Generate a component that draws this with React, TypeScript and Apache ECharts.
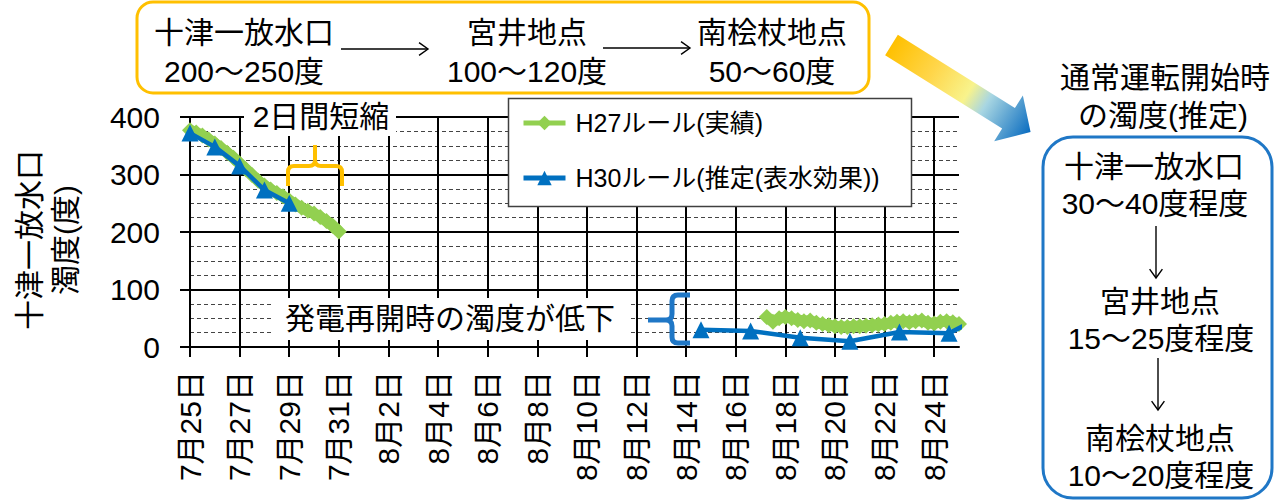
import React, { useEffect, useRef } from "react";
import * as echarts from "echarts";

// Category ticks: one per day, 7/25 .. 8/25
const dayLabels = [
  "7月25日", "7月26日", "7月27日", "7月28日", "7月29日", "7月30日", "7月31日",
  "8月1日", "8月2日", "8月3日", "8月4日", "8月5日", "8月6日", "8月7日", "8月8日",
  "8月9日", "8月10日", "8月11日", "8月12日", "8月13日", "8月14日", "8月15日",
  "8月16日", "8月17日", "8月18日", "8月19日", "8月20日", "8月21日", "8月22日",
  "8月23日", "8月24日", "8月25日",
];

// [day offset from 7/25, turbidity]
const h27Early: [number, number][] = [
  [0, 377], [0.25, 373], [0.5, 368], [0.75, 361], [1, 354], [1.25, 346], [1.5, 338],
  [1.75, 329], [2, 319], [2.25, 309], [2.5, 299], [2.75, 289], [3, 281], [3.25, 274],
  [3.5, 268], [3.75, 262], [4, 255], [4.25, 248], [4.5, 242], [4.75, 237], [5, 232],
  [5.25, 226], [5.5, 219], [5.75, 211], [6, 201],
];
const h27Late: [number, number][] = [
  [23.25, 52], [23.5, 44], [23.75, 50], [24, 52], [24.25, 50], [24.5, 47], [24.75, 45],
  [25, 46], [25.25, 42], [25.5, 40], [25.75, 38], [26, 36], [26.25, 35], [26.5, 35],
  [26.75, 36], [27, 36], [27.25, 37], [27.5, 38], [27.75, 39], [28, 40], [28.25, 42],
  [28.5, 44], [28.75, 45], [29, 43], [29.25, 45], [29.5, 46], [29.75, 42], [30, 41],
  [30.25, 44], [30.5, 45], [30.75, 43], [31, 40],
];
const h30Early: [number, number][] = [[0, 372], [1, 348], [2, 315], [3, 273], [4, 250]];
const h30Late: [number, number][] = [
  [20.6, 30], [22.6, 28], [24.6, 16], [26.6, 10], [28.6, 26], [30.6, 24], [32.6, 68],
];

const seriesNames = ["H27ルール(実績)", "H30ルール(推定(表水効果))"];

const FONT = "'Liberation Sans', 'Noto Sans CJK JP', sans-serif";
const ORANGE = "#FFC000";
const BLUE = "#1F77C6";
const GREEN = "#92D050";
const LINE_BLUE = "#0070C0";

// Curly braces drawn as paths
const braceUpPath =
  "M0 41 L0 27 Q0 21 6 21 L21 21 Q27 21 27 15 L27 0 M27 15 Q27 21 33 21 L48 21 Q54 21 54 27 L54 41";
const braceLeftPath =
  "M42 0 L30 0 Q24 0 24 6 L24 19 Q24 25 18 25 L0 25 M18 25 Q24 25 24 31 L24 42 Q24 48 30 48 L42 48";
echarts.graphic.registerShape("braceUp", echarts.graphic.extendPath(braceUpPath, {}));
echarts.graphic.registerShape("braceLeft", echarts.graphic.extendPath(braceLeftPath, {}));

function label(text: string, x: number, y: number, size = 30, extra: any = {}) {
  return {
    type: "text",
    x,
    y,
    z: 20,
    ...extra,
    style: {
      text,
      fill: "#000",
      fontSize: size,
      fontFamily: FONT,
      align: "center",
      verticalAlign: "middle",
      textAlign: "center",
      textVerticalAlign: "middle",
      ...(extra.style || {}),
    },
  };
}

function arrow(x1: number, y1: number, x2: number, y2: number) {
  const ang = Math.atan2(y2 - y1, x2 - x1);
  const hl = 11;
  const hw = 0.62;
  return [
    { type: "line", z: 20, shape: { x1, y1, x2, y2 }, style: { stroke: "#000", lineWidth: 1.4 } },
    {
      type: "polyline",
      z: 20,
      shape: {
        points: [
          [x2 - hl * Math.cos(ang - hw), y2 - hl * Math.sin(ang - hw)],
          [x2, y2],
          [x2 - hl * Math.cos(ang + hw), y2 - hl * Math.sin(ang + hw)],
        ],
      },
      style: { stroke: "#000", lineWidth: 1.4, fill: null },
    },
  ];
}

export default function App() {
  const ref = useRef<HTMLDivElement>(null);

  useEffect(() => {
    if (!ref.current) return;
    const chart = echarts.init(ref.current, null, { renderer: "svg" });

    const gradient = new echarts.graphic.LinearGradient(0, 0, 1, 0, [
      { offset: 0, color: "#FFC000" },
      { offset: 0.3, color: "#FFD64A" },
      { offset: 0.55, color: "#F8F38C" },
      { offset: 0.68, color: "#A8D6E2" },
      { offset: 1, color: "#0A6CC0" },
    ]);

    const option: any = {
      animation: false,
      backgroundColor: "#fff",
      textStyle: { fontFamily: FONT },
      grid: { left: 190, top: 117, width: 769, height: 230, containLabel: false },
      legend: {
        left: 521,
        top: 108,
        orient: "vertical",
        itemWidth: 42,
        itemHeight: 18,
        itemGap: 25,
        padding: 0,
        selectedMode: false,
        z: 6,
        lineStyle: { width: 5 },
        textStyle: { fontSize: 25, color: "#000", fontFamily: FONT, lineHeight: 30, padding: [0, 0, 0, 5] },
        data: seriesNames,
      },
      xAxis: [
        {
          type: "category",
          data: dayLabels,
          boundaryGap: false,
          axisLine: { lineStyle: { color: "#000", width: 2 } },
          axisTick: { show: true, interval: 1, length: 10, lineStyle: { color: "#000", width: 2 } },
          axisLabel: { interval: 1, rotate: 90, fontSize: 30, color: "#000", margin: 24, fontFamily: FONT },
          splitLine: { show: true, interval: 1, lineStyle: { color: "#000", width: 2 } },
        },
        { type: "value", min: 0, max: 31, show: false },
      ],
      yAxis: {
        type: "value",
        min: 0,
        max: 400,
        interval: 100,
        axisLine: { show: true, lineStyle: { color: "#000", width: 2 } },
        axisTick: { show: true, length: 10, lineStyle: { color: "#000", width: 2 } },
        axisLabel: { fontSize: 30, color: "#000", margin: 30, fontFamily: FONT },
        splitLine: { show: true, lineStyle: { color: "#000", width: 2 } },
        minorTick: { show: false, splitNumber: 4 },
        minorSplitLine: { show: true, lineStyle: { color: "#444", width: 1, type: [4, 3] } },
      },
      series: [
        {
          name: seriesNames[0],
          type: "line",
          xAxisIndex: 1,
          data: [...h27Early, [15, null], ...h27Late],
          symbol: "diamond",
          symbolSize: 16,
          color: GREEN,
          lineStyle: { width: 11, color: GREEN },
          itemStyle: { color: GREEN },
          connectNulls: false,
          clip: true,
          z: 2,
        },
        {
          name: seriesNames[1],
          type: "line",
          xAxisIndex: 1,
          data: [...h30Early, [12, null], ...h30Late],
          symbol: "triangle",
          symbolSize: 17,
          color: LINE_BLUE,
          lineStyle: { width: 4.5, color: LINE_BLUE },
          itemStyle: { color: LINE_BLUE },
          connectNulls: false,
          clip: true,
          z: 3,
        },
      ],
      graphic: [
        // top summary box
        {
          type: "rect",
          z: 15,
          shape: { x: 137, y: 2, width: 732, height: 91, r: 16 },
          style: { fill: "#fff", stroke: ORANGE, lineWidth: 3 },
        },
        label("十津一放水口", 244, 32),
        label("200～250度", 244, 71),
        label("宮井地点", 527, 32),
        label("100～120度", 527, 71),
        label("南桧杖地点", 772, 32),
        label("50～60度", 772, 71),
        ...arrow(341, 49, 428, 49),
        ...arrow(603, 48, 690, 48),
        // gradient arrow
        {
          type: "polygon",
          z: 15,
          x: 891.5,
          y: 45,
          rotation: -Math.atan2(86.7, 138.5),
          shape: {
            points: [[0, -12], [138, -12], [138, -27], [164, 0], [138, 27], [138, 12], [0, 12]],
          },
          style: { fill: gradient },
        },
        // right side
        label("通常運転開始時", 1165, 77),
        label("の濁度(推定)", 1163, 115),
        {
          type: "rect",
          z: 15,
          shape: { x: 1043, y: 137, width: 229, height: 361, r: 30 },
          style: { fill: "#fff", stroke: BLUE, lineWidth: 3 },
        },
        label("十津一放水口", 1154, 166),
        label("30～40度程度", 1155, 203),
        ...arrow(1156, 226, 1156, 278),
        label("宮井地点", 1160, 301),
        label("15～25度程度", 1161, 338),
        ...arrow(1158, 358, 1158, 410),
        label("南桧杖地点", 1160, 438),
        label("10～20度程度", 1161, 475),
        // y axis title
        label("十津一放水口\n濁度(度)", 47, 240, 30, {
          rotation: Math.PI / 2,
          style: { lineHeight: 36 },
        }),
        // legend frame
        {
          type: "rect",
          z: 3,
          shape: { x: 508.5, y: 98.5, width: 403, height: 108 },
          style: { fill: "#fff", stroke: "#404040", lineWidth: 1.5 },
        },
        // annotations in plot
        {
          type: "rect",
          z: 12,
          shape: { x: 244, y: 101, width: 152, height: 35 },
          style: { fill: "#fff" },
        },
        label("2日間短縮", 321, 116),
        {
          type: "braceUp",
          z: 13,
          x: 288,
          y: 145,
          style: { stroke: ORANGE, lineWidth: 4, fill: "none" },
        },
        {
          type: "rect",
          z: 12,
          shape: { x: 272, y: 298, width: 358, height: 42 },
          style: { fill: "#fff" },
        },
        label("発電再開時の濁度が低下", 450, 318),
        {
          type: "braceLeft",
          z: 13,
          x: 648,
          y: 295,
          style: { stroke: BLUE, lineWidth: 5, fill: "none" },
        },
      ],
    };

    chart.setOption(option);
    return () => chart.dispose();
  }, []);

  return (
    <div
      ref={ref}
      style={{ position: "fixed", left: 0, top: 0, width: 1279, height: 500, background: "#fff" }}
    />
  );
}
